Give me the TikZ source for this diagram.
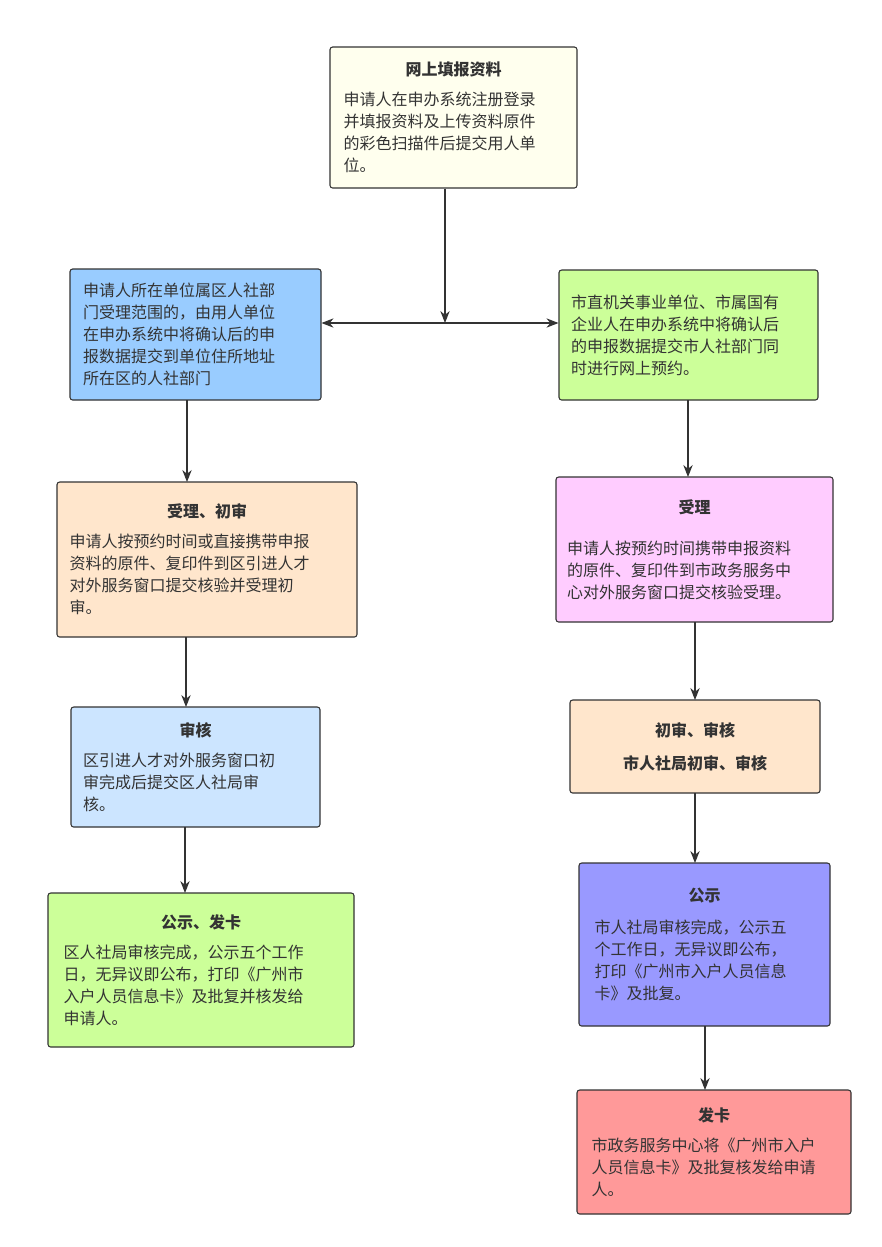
\documentclass[tikz,border=0pt]{standalone}
\usepackage{fontspec}
\setmainfont{Noto Sans CJK SC}
\usetikzlibrary{arrows.meta,fit}
\tikzset{
    %Define standard arrow tip
    >={Stealth[length=9pt,width=7pt]},
    %Define style for boxes
    stepbox/.style={
           rectangle,
           rounded corners=2pt,
           draw=black!80, thick,
           inner sep=0pt},
    boxtext/.style={
          font=\fontsize{12pt}{16.5pt}\selectfont,
          text=black!80,
          align=left,
          inner sep=0pt},
    % Define arrow style
    arrow/.style={
           ->,
           thick,
           draw=black!80},
}
\definecolor{cyellow}{HTML}{FFFFEE}
\definecolor{cblue}{HTML}{99CCFF}
\definecolor{cgreen}{HTML}{CCFF99}
\definecolor{corange}{HTML}{FFE6CC}
\definecolor{cpink}{HTML}{FFCCFF}
\definecolor{clblue}{HTML}{CCE5FF}
\definecolor{cpurple}{HTML}{9999FF}
\definecolor{cred}{HTML}{FF9999}
\begin{document}
\begin{tikzpicture}[x=0.75pt,y=-0.75pt]
\useasboundingbox[fill=white] (0,0) rectangle (882,1247);
% boxes
\node[stepbox, fill=cyellow, fit={(330,47)(577,188)}]  (online) {};
\node[stepbox, fill=cblue,   fit={(70,269)(321,400)}]  (district){};
\node[stepbox, fill=cgreen,  fit={(559,270)(818,400)}] (city)    {};
\node[stepbox, fill=corange, fit={(57,482)(357,637)}]  (accept)  {};
\node[stepbox, fill=cpink,   fit={(556,477)(833,622)}] (caccept) {};
\node[stepbox, fill=clblue,  fit={(71,707)(320,827)}]  (review)  {};
\node[stepbox, fill=corange, fit={(570,700)(820,793)}] (creview) {};
\node[stepbox, fill=cgreen,  fit={(48,893)(354,1047)}] (publish) {};
\node[stepbox, fill=cpurple, fit={(579,863)(830,1026)}](cpublish){};
\node[stepbox, fill=cred,    fit={(577,1090)(851,1214)}](card)   {};
% texts
\node[boxtext, text width=220*0.75pt] at (online)
  {{\centering\bfseries 网上填报资料\par}\vspace{6pt}
   申请人在申办系统注册登录\\并填报资料及上传资料原件\\的彩色扫描件后提交用人单\\位。};
\node[boxtext, text width=225*0.75pt] at (district)
  {申请人所在单位属区人社部\\门受理范围的，由用人单位\\在申办系统中将确认后的申\\报数据提交到单位住所地址\\所在区的人社部门};
\node[boxtext, text width=235*0.75pt] at (city)
  {市直机关事业单位、市属国有\\企业人在申办系统中将确认后\\的申报数据提交市人社部门同\\时进行网上预约。};
\node[boxtext, text width=275*0.75pt] at (accept)
  {{\centering\bfseries 受理、初审\par}\vspace{6pt}
   申请人按预约时间或直接携带申报\\资料的原件、复印件到区引进人才\\对外服务窗口提交核验并受理初\\审。};
\node[boxtext, text width=255*0.75pt] at (caccept)
  {{\centering\bfseries 受理\par}\vspace{14pt}
   申请人按预约时间携带申报资料\\的原件、复印件到市政务服务中\\心对外服务窗口提交核验受理。};
\node[boxtext, text width=225*0.75pt] at (review)
  {{\centering\bfseries 审核\par}\vspace{6pt}
   区引进人才对外服务窗口初\\审完成后提交区人社局审\\核。};
\node[boxtext, text width=230*0.75pt, align=center] at (creview)
  {\bfseries 初审、审核\\[8pt] 市人社局初审、审核};
\node[boxtext, text width=275*0.75pt] at (publish)
  {{\centering\bfseries 公示、发卡\par}\vspace{6pt}
   区人社局审核完成，公示五个工作\\日，无异议即公布，打印《广州市\\入户人员信息卡》及批复并核发给\\申请人。};
\node[boxtext, text width=220*0.75pt] at (cpublish)
  {{\centering\bfseries 公示\par}\vspace{8pt}
   市人社局审核完成，公示五\\个工作日，无异议即公布，\\打印《广州市入户人员信息\\卡》及批复。};
\node[boxtext, text width=245*0.75pt] at (card)
  {{\centering\bfseries 发卡\par}\vspace{6pt}
   市政务服务中心将《广州市入户\\人员信息卡》及批复核发给申请\\人。};
% connectors
\coordinate (split) at (445,323);
\draw[arrow] (online.south -| split) -- (split);
\draw[arrow, <->] (district.east |- split) -- (city.west |- split);
\draw[arrow] (187,400) -- (187,482);
\draw[arrow] (186,637) -- (186,707);
\draw[arrow] (185,827) -- (185,893);
\draw[arrow] (688,400) -- (688,477);
\draw[arrow] (695,622) -- (695,700);
\draw[arrow] (695,793) -- (695,863);
\draw[arrow] (705,1026) -- (705,1090);
\end{tikzpicture}
\end{document}
